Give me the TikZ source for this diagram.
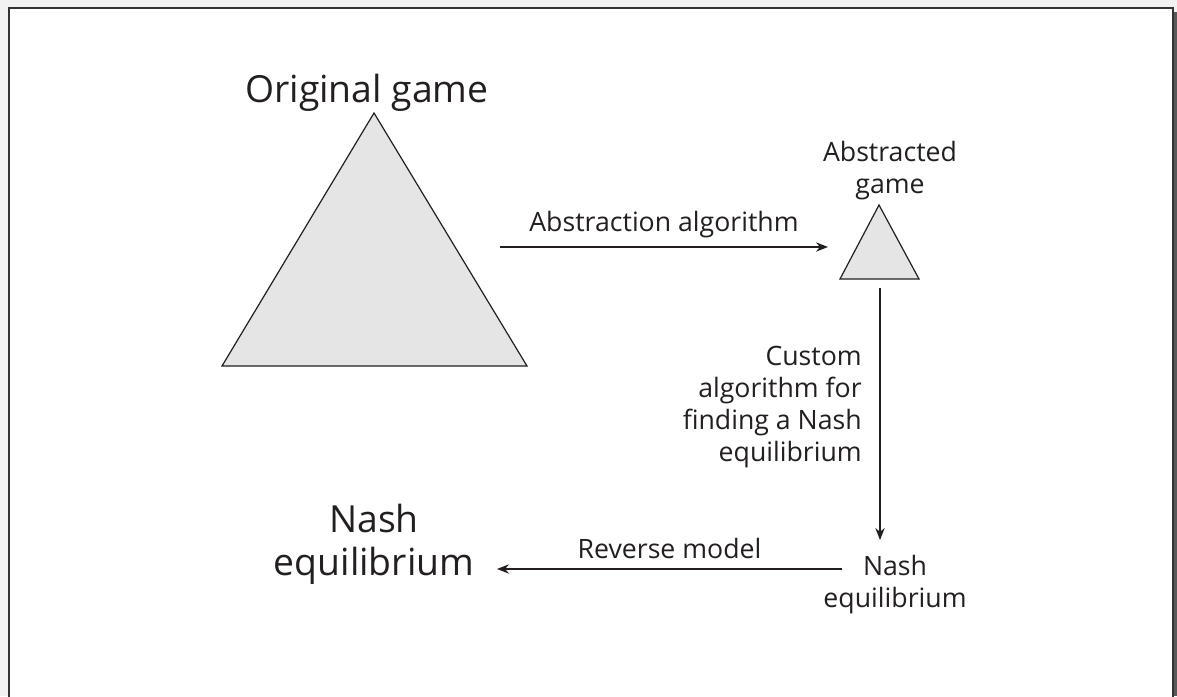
\documentclass[tikz,border=0pt]{standalone}
\usepackage{fontspec}
\setmainfont{Open Sans}
\usetikzlibrary{arrows.meta, positioning}
\definecolor{trifill}{gray}{0.9}
\definecolor{pagebg}{gray}{0.95}
\definecolor{ink}{HTML}{231F20}

\begin{document}
\begin{tikzpicture}[x=0.75pt, y=-0.75pt, color=ink,
    small/.style={font=\fontsize{20}{24}\selectfont, inner sep=0pt},
    big/.style={font=\fontsize{28}{32}\selectfont, inner sep=0pt},
    game/.style={draw=ink, fill=trifill, line width=0.9pt},
    arr/.style={arrows={-Stealth[length=9pt, width=7pt]}, line width=0.9pt}]
    % Page
    \fill[pagebg] (0,0) rectangle (1177,696);
    \useasboundingbox (0,0) rectangle (1177,696);
    \fill[black!65] (1173,12) rectangle (1177,696);
    \draw[line width=1.5pt, draw=black!80, fill=white] (9,8) rectangle (1173,720);

    % Games
    \coordinate (bigtop) at (374,113);
    \coordinate (bigleft) at (222,366);
    \coordinate (bigright) at (527,366);
    \filldraw[game] (bigtop) -- (bigleft) -- (bigright) -- cycle;
    \coordinate (smalltop) at (879,205);
    \coordinate (smallleft) at (840,279);
    \coordinate (smallright) at (919,279);
    \filldraw[game] (smalltop) -- (smallleft) -- (smallright) -- cycle;

    % Labels (base = last line)
    \node[big, anchor=base] (orig) at (367,102) {Original game};
    \node[small, anchor=base, align=center] (abstracted) at (890,193) {Abstracted\\game};
    \node[small, anchor=base east, align=right] (custom) at (862,461)
        {Custom\\algorithm for\\finding a Nash\\equilibrium};
    \node[small, anchor=base, align=center] (nashsmall) at (895,607) {Nash\\equilibrium};
    \node[big, anchor=base, align=center] (nashbig) at (374,575) {Nash\\equilibrium};

    % Connections
    \coordinate (absstart) at (500,247);
    \coordinate (absend) at (828,247);
    \draw[arr] (absstart) -- (absend)
        node[small, midway, above=6pt] (abslabel) {Abstraction algorithm};
    \coordinate (solvestart) at (880,288);
    \coordinate (solveend) at (880,540);
    \draw[arr] (solvestart) -- (solveend);
    \coordinate (revstart) at (842,569);
    \coordinate (revend) at (497,569);
    \draw[arr] (revstart) -- (revend)
        node[small, midway, above=7pt] (revlabel) {Reverse model};
\end{tikzpicture}
\end{document}
